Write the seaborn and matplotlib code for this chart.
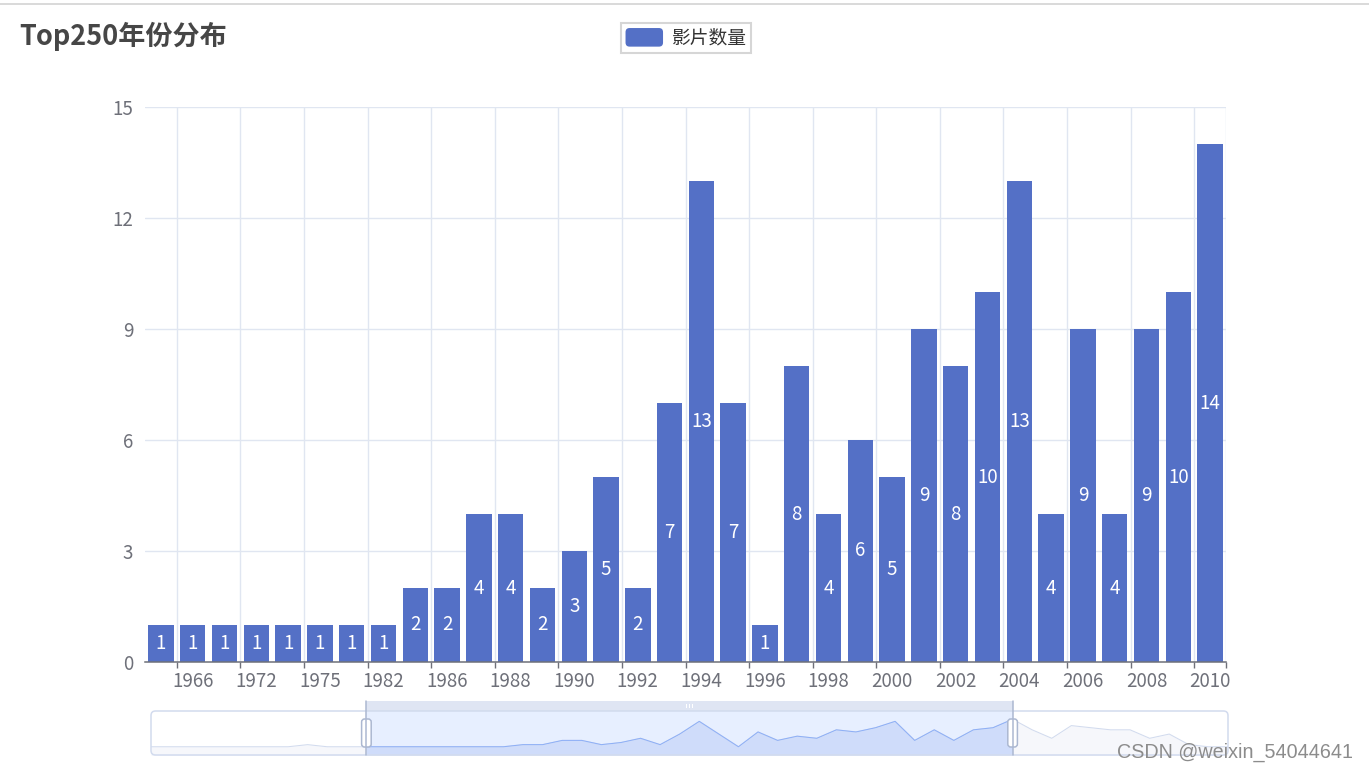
import matplotlib
matplotlib.use('Agg')
import matplotlib.pyplot as plt
import seaborn as sns
import pandas as pd
import numpy as np
from matplotlib.patches import FancyBboxPatch, Rectangle, Patch
from matplotlib.lines import Line2D
from matplotlib.transforms import IdentityTransform
from matplotlib.legend_handler import HandlerBase

# ---------------- data ----------------
years = ['1965', '1966', '1971', '1972', '1974', '1975', '1979', '1982', '1984',
         '1986', '1987', '1988', '1989', '1990', '1991', '1992', '1993', '1994',
         '1995', '1996', '1997', '1998', '1999', '2000', '2001', '2002', '2003',
         '2004', '2005', '2006', '2007', '2008', '2009', '2010']
counts = [1, 1, 1, 1, 1, 1, 1, 1, 2, 2, 4, 4, 2, 3, 5, 2, 7, 13, 7, 1, 8, 4, 6, 5,
          9, 8, 10, 13, 4, 9, 4, 9, 10, 14]
shown_years = years[1::2]
y_ticks = [0, 3, 6, 9, 12, 15]
# values of the data-zoom overview outside the visible window
counts_before = [1, 1, 1, 1, 1, 1, 1, 1, 2, 1, 1]
counts_after = [9, 5, 11, 10, 9, 9, 5, 7, 2, 1, 1]

title_text = 'Top250年份分布'
series_name = '影片数量'
watermark = 'CSDN @weixin_54044641'

BAR = '#5470c6'
AXC = '#6e7079'
GRID = '#e0e6f1'

sns.set_theme(style='white')
plt.rcParams['font.family'] = ['Noto Sans CJK SC', 'DejaVu Sans']

W, H = 1369, 772
fig = plt.figure(figsize=(W / 100, H / 100), dpi=100)


def fx(px):
    return px / W


def fy(py):
    return 1 - py / H


# ---------------- main bar chart ----------------
ax = fig.add_axes([fx(145), fy(662), fx(1226) - fx(145), fy(107) - fy(662)])
df = pd.DataFrame({'year': years, 'count': counts})
sns.barplot(data=df, x='year', y='count', color=BAR, saturation=1, width=0.8,
            linewidth=0, ax=ax, zorder=2)
ax.bar_label(ax.containers[0], labels=[str(c) for c in counts],
             label_type='center', color='white', fontsize=13.5)

ax.set_xlim(-0.5, len(years) - 0.5)
ax.set_ylim(0, 15)
ax.set_xlabel('')
ax.set_ylabel('')
ax.set_yticks(y_ticks)
ax.set_yticklabels([str(v) for v in y_ticks])
ax.set_xticks(np.arange(1, len(years), 2))
ax.set_xticklabels(shown_years)
minor = list(np.arange(0.5, len(years), 2)) + [len(years) - 0.5]
ax.set_xticks(minor, minor=True)

ax.tick_params(axis='x', which='major', length=0, pad=6.5, labelsize=13.5, labelcolor=AXC)
ax.tick_params(axis='x', which='minor', length=4, width=1, color=AXC, bottom=True)
ax.tick_params(axis='y', which='major', length=0, pad=8.5, labelsize=13.5, labelcolor=AXC)
ax.set_axisbelow(True)
ax.grid(False)
ax.grid(axis='x', which='minor', color=GRID, lw=1)
ax.grid(axis='y', which='major', color=GRID, lw=1)
for s in ['top', 'right', 'left']:
    ax.spines[s].set_visible(False)
ax.spines['bottom'].set_color(AXC)
ax.spines['bottom'].set_linewidth(1.1)
ax.spines['bottom'].set_zorder(3)

# ---------------- data zoom slider ----------------
full = counts_before + counts + counts_after
n = len(full)
idx = np.arange(n)
s0 = len(counts_before)
s1 = s0 + len(counts) - 1
ax2 = fig.add_axes([fx(151), fy(755), fx(1228) - fx(151), fy(711) - fy(755)])
rng = max(full) - min(full)
ax2.axis('off')
ax2.fill_between(idx, full, -100, color='#d2dbee', alpha=0.2, lw=0)
sns.lineplot(x=idx, y=full, color='#d2dbee', lw=0.75, ax=ax2)
ax2.axvspan(s0, s1, color=(135 / 255, 175 / 255, 1.0), alpha=0.2, lw=0)
ax2.fill_between(idx[s0:s1 + 1], full[s0:s1 + 1], -100, color='#8fb0f7', alpha=0.2, lw=0)
sns.lineplot(x=idx[s0:s1 + 1], y=full[s0:s1 + 1], color='#8fb0f7', lw=0.75, ax=ax2)
ax2.set_xlim(0, n - 1)
ax2.set_ylim(min(full) - 0.3 * rng, max(full) + 0.3 * rng)

ID = IdentityTransform()
# slider border
fig.add_artist(FancyBboxPatch((151, H - 755), 1077, 44,
                              boxstyle='round,pad=0,rounding_size=4.5',
                              fc='none', ec='#d2dbee', lw=1.1, transform=ID))
# handle positions in pixels (from data positions in ax2)
x_left = ax2.transData.transform((s0, 0))[0]
x_right = ax2.transData.transform((s1, 0))[0]
# move handle bar
fig.add_artist(Rectangle((x_left, H - 711), x_right - x_left, 10.5,
                         fc='#d2dbee', alpha=0.7, lw=0, transform=ID))
xc = (x_left + x_right) / 2
for dx in (-3, 0, 3):
    fig.add_artist(Rectangle((xc + dx - 0.75, H - 708), 1.5, 4, fc='white', lw=0, transform=ID))
for xh in (x_left, x_right):
    fig.add_artist(Line2D([xh, xh], [H - 755, H - 701], color='#acb8d1', lw=1.1, transform=ID))
    fig.add_artist(FancyBboxPatch((xh - 4.8, H - 747), 9.6, 28,
                                  boxstyle='round,pad=0,rounding_size=3',
                                  fc='white', ec='#acb8d1', lw=1.1, transform=ID))

# ---------------- title / legend / extras ----------------
fig.text(fx(19), fy(36), title_text, fontsize=19.5, fontweight='bold',
         color='#464646', ha='left', va='center')


class RoundHandler(HandlerBase):
    def create_artists(self, legend, orig_handle, xdescent, ydescent,
                       width, height, fontsize, trans):
        p = FancyBboxPatch((-xdescent, -ydescent), width, height,
                           boxstyle=f'round,pad=0,rounding_size={height * 0.22}',
                           fc=orig_handle.get_facecolor(), ec='none', transform=trans)
        return [p]


leg = fig.legend(handles=[Patch(facecolor=BAR, label=series_name)],
                 handler_map={Patch: RoundHandler()},
                 loc='upper center', bbox_to_anchor=(fx(686), fy(23)),
                 frameon=True, fancybox=False, edgecolor='#cccccc',
                 fontsize=13.5, handlelength=2.0, handleheight=1.15,
                 handletextpad=0.45, borderpad=0.25, borderaxespad=0)
leg.get_frame().set_linewidth(1.5)
for t in leg.get_texts():
    t.set_color('#333333')

# top border line
fig.add_artist(Rectangle((0, H - 5), W, 2.2, fc='#dadada', lw=0, transform=ID))

fig.text(fx(1353), fy(752), watermark, fontsize=14.2, color='#8c8c8c',
         ha='right', va='center', family=['Liberation Sans', 'DejaVu Sans'])

fig.savefig('out.png', dpi=100)
